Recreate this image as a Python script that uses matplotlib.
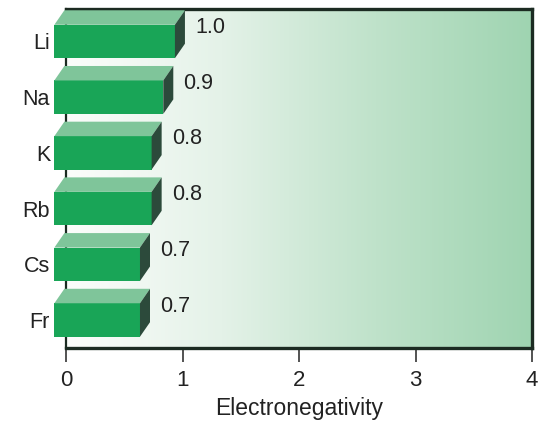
import matplotlib.pyplot as plt
from matplotlib.patches import Polygon, Rectangle
from matplotlib.colors import LinearSegmentedColormap
import numpy as np

elements = ['Li', 'Na', 'K', 'Rb', 'Cs', 'Fr']
electronegativity = [1.0, 0.9, 0.8, 0.8, 0.7, 0.7]
x_ticks = [0, 1, 2, 3, 4]

FRONT = '#19a557'
TOP = '#7fc59a'
SIDE = '#2c4a3b'
EDGE = '#1c2b22'

plt.rcParams['font.family'] = ['Liberation Sans', 'DejaVu Sans']


def draw_box(ax, y, value, half_h=0.3, dx=0.086, dy=0.26, x0=-0.1):
    # front face, top face and right side of a pseudo-3D bar
    x1 = value - 0.065
    ax.add_patch(Rectangle((x0, y - half_h), x1 - x0, 2 * half_h,
                           facecolor=FRONT, edgecolor='none', zorder=5, clip_on=False))
    ax.add_patch(Polygon([(x0, y + half_h), (x1, y + half_h),
                          (x1 + dx, y + half_h + dy), (x0 + dx, y + half_h + dy)],
                         closed=True, facecolor=TOP, edgecolor='none', zorder=5, clip_on=False))
    ax.add_patch(Polygon([(x1, y - half_h), (x1 + dx, y - half_h + dy),
                          (x1 + dx, y + half_h + dy), (x1, y + half_h)],
                         closed=True, facecolor=SIDE, edgecolor='none', zorder=5, clip_on=False))


fig = plt.figure(figsize=(5.38, 4.26), dpi=100)
ax = fig.add_axes([66 / 538, 78 / 426, 466 / 538, 339 / 426])

ylim = (-0.503, 5.583)
xlim = (0, 4)

# white-to-green wash behind the bars
bg = LinearSegmentedColormap.from_list('wash', ['#fbfdfb', '#e4f2e8', '#bfe2ca', '#9fd4b1'])
grad = np.linspace(0, 1, 256).reshape(1, -1)
ax.imshow(grad, extent=[xlim[0], xlim[1], ylim[0], ylim[1]], aspect='auto',
          cmap=bg, zorder=0, interpolation='bilinear')

ypos = np.arange(len(elements))[::-1]
for y, v in zip(ypos, electronegativity):
    draw_box(ax, y, v)
    ax.text(v + 0.107, y + 0.25, f'{v:.1f}', ha='left', va='center',
            fontsize=15.5, color='#222222', zorder=6)

ax.set_xlim(*xlim)
ax.set_ylim(*ylim)
ax.set_xticks(x_ticks)
ax.set_xticklabels([str(t) for t in x_ticks])
ax.set_yticks(ypos)
ax.set_yticklabels(elements)
ax.tick_params(axis='x', direction='out', length=10, width=1.3, color='#444444',
               pad=6, labelsize=16, labelcolor='#222222')
ax.tick_params(axis='y', length=0, pad=11.5, labelsize=15.5, labelcolor='#222222')
ax.set_xlabel('Electronegativity', fontsize=16.5, color='#222222', labelpad=4)

for side in ['top', 'right', 'bottom']:
    ax.spines[side].set_linewidth(2.4)
    ax.spines[side].set_color(EDGE)
ax.spines['left'].set_linewidth(1.6)
ax.spines['left'].set_color(EDGE)

fig.savefig('out.png', dpi=100)
